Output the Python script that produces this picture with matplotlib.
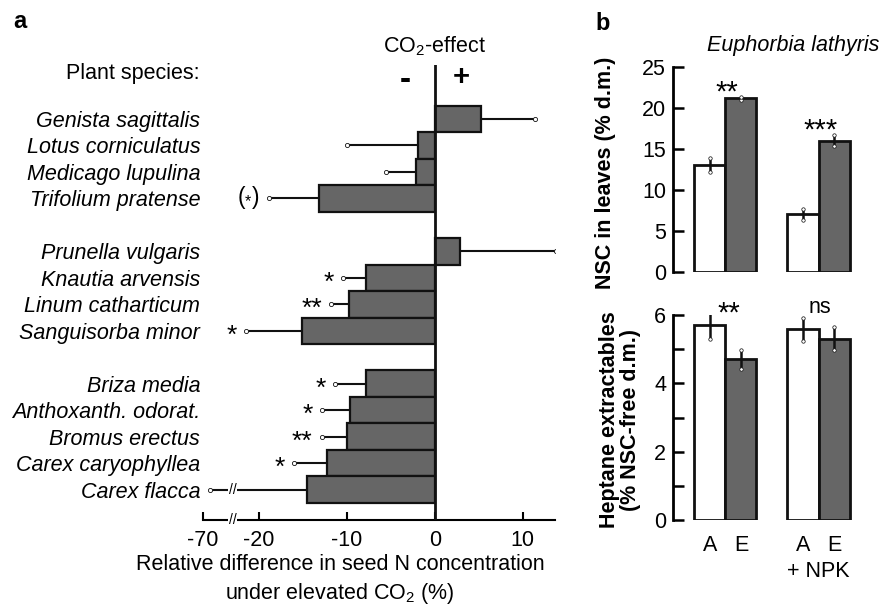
import numpy as np
import matplotlib
matplotlib.use("Agg")
import matplotlib.pyplot as plt
import matplotlib.transforms as mtransforms

plt.rcParams['font.family'] = ['Liberation Sans', 'DejaVu Sans']
plt.rcParams['mathtext.fontset'] = 'custom'
plt.rcParams['mathtext.rm'] = 'Liberation Sans'
plt.rcParams['mathtext.it'] = 'Liberation Sans:italic'

# ---- panel a data: relative difference in seed N (%) ----
species = ['Genista sagittalis', 'Lotus corniculatus', 'Medicago lupulina', 'Trifolium pratense',
           'Prunella vulgaris', 'Knautia arvensis', 'Linum catharticum', 'Sanguisorba minor',
           'Briza media', 'Anthoxanth. odorat.', 'Bromus erectus', 'Carex caryophyllea', 'Carex flacca']
group_sizes = [4, 4, 5]
rel_diff = [5.3, -1.9, -2.1, -13.2, 2.9, -7.8, -9.8, -15.1, -7.8, -9.6, -10.0, -12.3, -14.5]
rel_err = [6.1, 8.1, 3.4, 5.7, 10.9, 2.7, 2.0, 6.4, 3.6, 3.3, 2.9, 3.7, 44.5]
signif = ['', '', '', '(*)', '', '*', '**', '*', '*', '*', '**', '*', '']
xticks_a = [-70, -20, -10, 0, 10]

# ---- panel b data: Euphorbia lathyris ----
nsc_amb = [13.0, 7.0]
nsc_amb_err = [0.9, 0.65]
nsc_elev = [21.15, 16.0]
nsc_elev_err = [0.2, 0.7]
nsc_sig = ['**', '***']
hep_amb = [5.70, 5.58]
hep_amb_err = [0.40, 0.34]
hep_elev = [4.71, 5.31]
hep_elev_err = [0.28, 0.34]
hep_sig = ['**', 'ns']

GRAY = '#666666'
DARK = '#111111'
FS = 15.5
SFS = 19   # size of significance stars
W, H = 890, 612
PT = 0.72  # points per pixel at dpi 100


def fpos(x0, y0, x1, y1):
    return [x0 / W, 1 - y1 / H, (x1 - x0) / W, (y1 - y0) / H]


def star_label(axx, xy, s, dx, dy, ha='right', size=SFS):
    # dx, dy in pixels (dy > 0 is up); asterisks sit high, so drop the baseline
    base = -0.45 * size
    axx.annotate(s, xy, xytext=(dx * PT, dy * PT + base), textcoords='offset points',
                 ha=ha, va='baseline', fontsize=size, annotation_clip=False)


# broken axis: linear down to -23, compressed beyond
def fwd(x):
    x = np.asarray(x, float)
    return np.where(x >= -23, x, -23 + (x + 23) * 3.4 / 47)


def inv(y):
    y = np.asarray(y, float)
    return np.where(y >= -23, y, -23 + (y + 23) * 47 / 3.4)


fig = plt.figure(figsize=(8.9, 6.12), dpi=100)

# ================= panel a =================
ax = fig.add_axes(fpos(203, 65, 555, 520))
ax.set_xscale('function', functions=(fwd, inv))

rows = []
r = 0
for g in group_sizes:
    rows.extend(range(r, r + g))
    r += g + 1
rows = np.array(rows)

ax.barh(rows, rel_diff, height=1.0, color=GRAY, edgecolor=DARK, linewidth=1.6, zorder=2)
for y, v, e, s in zip(rows, rel_diff, rel_err, signif):
    end = v + np.sign(v) * e
    ax.plot([v, end], [y, y], color=DARK, lw=1.5, zorder=1, solid_capstyle='butt')
    ax.plot([end], [y], marker='o', ms=3, mfc='white', mec=DARK, mew=0.6, zorder=3)
    if s == '(*)':
        ax.annotate(r'($_{*}$)', (end, y), xytext=(-9 * PT, 1), textcoords='offset points',
                    ha='right', va='center', fontsize=FS + 1)
    elif s:
        star_label(ax, (end, y), s, -9, 0)

ax.axvline(0, color=DARK, lw=2, zorder=4)
ax.set_xlim(-70, 13.7)
ax.set_ylim(15.15, -2.04)
ax.set_yticks(rows)
ax.set_yticklabels(species, fontstyle='italic', fontsize=FS)
ax.tick_params(axis='y', length=0, pad=2)
ax.set_xticks(xticks_a)
ax.set_xticklabels([str(t) for t in xticks_a], fontsize=FS)
ax.tick_params(axis='x', direction='in', length=6, width=1.5, pad=7)
for sp in ['left', 'top', 'right']:
    ax.spines[sp].set_visible(False)
ax.spines['bottom'].set_linewidth(1.5)

# break marks on axis and on the long error bar
trans = mtransforms.blended_transform_factory(ax.transData, ax.transAxes)
ax.text(-23, 0, '//', transform=trans, ha='center', va='center', fontsize=10,
        bbox=dict(fc='white', ec='none', pad=0.5), clip_on=False, zorder=5)
ax.text(-23, rows[-1], '//', ha='center', va='center', fontsize=10,
        bbox=dict(fc='white', ec='none', pad=0.5), zorder=5)

fig.text(13 / W, 1 - 28 / H, 'a', fontsize=17, fontweight='bold', va='baseline')
fig.text(435 / W, 1 - 46 / H, 'CO$_2$-effect', fontsize=FS, ha='center', va='center')
fig.text(200 / W, 1 - 74 / H, 'Plant species:', fontsize=FS, ha='right', va='center')
fig.text(405 / W, 1 - 80 / H, '-', fontsize=24, fontweight='bold', ha='center', va='center')
fig.text(461 / W, 1 - 77 / H, '+', fontsize=21, fontweight='bold', ha='center', va='center')
fig.text(340 / W, 1 - 580 / H, 'Relative difference in seed N concentration\nunder elevated CO$_2$ (%)',
         fontsize=FS, ha='center', va='center', linespacing=1.3)

# ================= panel b =================
centers = np.array([0.0, 3.0])
bw = 1.0


def draw_pair(axb, amb, amb_err, elev, elev_err):
    xa = centers - bw / 2
    xe = centers + bw / 2
    axb.bar(xa, amb, width=bw, color='white', edgecolor=DARK, linewidth=2, zorder=2)
    axb.bar(xe, elev, width=bw, color=GRAY, edgecolor=DARK, linewidth=2, zorder=2)
    for xs, m, e in [(xa, amb, amb_err), (xe, elev, elev_err)]:
        for x, mm, ee in zip(xs, m, e):
            axb.plot([x, x], [mm - ee, mm + ee], color=DARK, lw=1.8, zorder=3)
            axb.plot([x, x], [mm - ee, mm + ee], ls='none', marker='o', ms=2.5,
                     mfc='white', mec=DARK, mew=0.5, zorder=4)
    axb.set_xlim(-1.69, 4.66)
    for sp in ['top', 'right', 'bottom']:
        axb.spines[sp].set_visible(False)
    axb.spines['left'].set_linewidth(2)
    axb.tick_params(axis='y', direction='in', length=8, width=1.8, labelsize=FS, pad=5)


ax1 = fig.add_axes(fpos(673, 66.7, 870, 271.7))
draw_pair(ax1, nsc_amb, nsc_amb_err, nsc_elev, nsc_elev_err)
for c, s, m, e in zip(centers, nsc_sig, nsc_elev, nsc_elev_err):
    star_label(ax1, (c + 0.05, m + e), s, 0, 9, ha='center', size=21)
ax1.set_ylim(0, 25)
ax1.set_yticks([0, 5, 10, 15, 20, 25])
ax1.set_xticks([])

ax2 = fig.add_axes(fpos(673, 315, 870, 520))
draw_pair(ax2, hep_amb, hep_amb_err, hep_elev, hep_elev_err)
for c, s in zip(centers, hep_sig):
    if s == 'ns':
        ax2.text(c + 0.05, 6.22, s, ha='center', va='center', fontsize=FS)
    else:
        star_label(ax2, (c + 0.1, 6.2), s, 0, 0, ha='center', size=21)
ax2.set_ylim(0, 6)
ax2.set_yticks(range(0, 7))
ax2.set_yticklabels([str(t) if t % 2 == 0 else '' for t in range(0, 7)])
ax2.set_xticks(np.concatenate([centers - bw / 2, centers + bw / 2]))
ax2.set_xticklabels(['A', 'A', 'E', 'E'], fontsize=FS)
ax2.tick_params(axis='x', length=0, pad=11)
ax2.text(centers[1], -1.5, '+ NPK', ha='center', va='center', fontsize=FS)

fig.text(595 / W, 1 - 30 / H, 'b', fontsize=17, fontweight='bold', va='baseline')
fig.text(793 / W, 1 - 45 / H, 'Euphorbia lathyris', fontsize=FS, fontstyle='italic',
         ha='center', va='center')
fig.text(606 / W, 1 - 173 / H, 'NSC in leaves (% d.m.)', fontsize=FS, fontweight='bold',
         rotation=90, ha='center', va='center')
fig.text(620 / W, 1 - 420 / H, 'Heptane extractables\n(% NSC-free d.m.)', fontsize=FS,
         fontweight='bold', rotation=90, ha='center', va='center', linespacing=1.0)

fig.savefig('out.png', dpi=100)
